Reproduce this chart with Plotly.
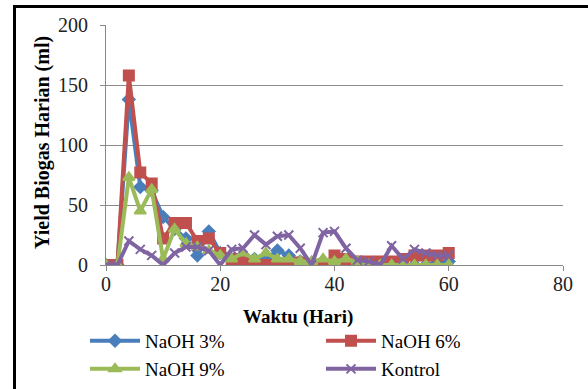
import plotly.graph_objects as go

# Days of measurement (every 2 days)
days = list(range(0, 61, 2))

# Daily biogas yield (ml) per treatment
naoh3 = [0, 0, 138, 65, 62, 40, 30, 22, 8, 28, 10, 5, 0, 5, 5, 12, 8, 3, 0, 3,
         0, 3, 0, 0, 0, 0, 0, 0, 0, 2, 3]
naoh6 = [0, 0, 158, 77, 68, 22, 35, 35, 20, 22, 10, 5, 5, 0, 0, 0, 0, 2, 0, 0,
         8, 5, 3, 3, 3, 3, 5, 8, 8, 8, 10]
naoh9 = [0, 0, 73, 45, 63, 5, 30, 18, 15, 12, 8, 5, 10, 5, 10, 5, 5, 3, 3, 5,
         3, 5, 3, 0, 0, 0, 0, 0, 0, 0, 0]
kontrol = [0, 0, 20, 13, 8, 0, 10, 15, 15, 12, 0, 13, 14, 25, 17, 24, 25, 14, 0, 27,
           28, 14, 4, 3, 0, 16, 5, 13, 10, 8, 8]

x_ticks = [0, 20, 40, 60, 80]
y_ticks = [0, 50, 100, 150, 200]

# name, values, colour, marker, marker size, legend row
series = [
    ("NaOH 3%", naoh3, "#4A7EBB", "diamond", 9, "legend"),
    ("NaOH 6%", naoh6, "#C0504D", "square", 10, "legend"),
    ("NaOH 9%", naoh9, "#9BBB59", "triangle-up", 10, "legend2"),
    ("Kontrol", kontrol, "#8064A2", "x-thin-open", 9, "legend2"),
]

fig = go.Figure()
for name, vals, color, sym, size, leg in series:
    fig.add_trace(go.Scatter(
        x=days, y=vals, name=name, mode="lines+markers", legend=leg,
        line=dict(color=color, width=4),
        marker=dict(symbol=sym, size=size, color=color,
                    line=dict(color=color, width=2)),
    ))

serif = "'Liberation Serif', 'DejaVu Serif', serif"
L, R, T, B = 106, 25, 25, 124
W, H = 588, 389
pw, ph = W - L - R, H - T - B


def px_x(p):
    return (p - L) / pw


def px_y(p):
    return (H - B - p) / ph


def legend_row(y_px):
    return dict(
        orientation="h", x=px_x(85), y=px_y(y_px), xanchor="left", yanchor="middle",
        entrywidth=171, entrywidthmode="pixels", itemwidth=50,
        font=dict(family=serif, size=19, color="black"),
        bgcolor="rgba(0,0,0,0)",
    )


fig.update_layout(
    width=W, height=H,
    margin=dict(l=L, r=R, t=T, b=B, autoexpand=False),
    paper_bgcolor="white", plot_bgcolor="white",
    font=dict(family=serif, size=19, color="black"),
    showlegend=True,
    legend=legend_row(341),
    legend2=legend_row(369),
    xaxis=dict(
        range=[0, 80], tickvals=x_ticks, showgrid=False, zeroline=False,
        showline=True, linecolor="#888888", linewidth=1,
        ticks="outside", ticklen=5, tickcolor="#888888", ticklabelstandoff=-4,
        tickfont=dict(family=serif, size=20, color="#222222"),
    ),
    yaxis=dict(
        range=[0, 200], tickvals=y_ticks, showgrid=True, gridcolor="#8c8c8c",
        gridwidth=1, zeroline=False, showline=True, linecolor="#888888",
        linewidth=1, ticks="outside", ticklen=5, tickcolor="#888888",
        ticklabelstandoff=8,
        tickfont=dict(family=serif, size=20, color="#222222"),
    ),
    annotations=[
        dict(text="<b>Waktu (Hari)</b>", xref="paper", yref="paper",
             x=px_x(298), y=px_y(317), xanchor="center", yanchor="middle",
             showarrow=False, font=dict(family=serif, size=19, color="black")),
        dict(text="<b>Yield Biogas Harian (ml)</b>", xref="paper", yref="paper",
             x=px_x(42), y=px_y(143), xanchor="center", yanchor="middle",
             textangle=-90, showarrow=False,
             font=dict(family=serif, size=20, color="black")),
    ],
    shapes=[
        dict(type="line", xref="paper", yref="paper",
             x0=px_x(14.5), x1=px_x(14.5), y0=px_y(5), y1=px_y(389),
             line=dict(color="black", width=3)),
        dict(type="line", xref="paper", yref="paper",
             x0=px_x(13), x1=px_x(588), y0=px_y(6.5), y1=px_y(6.5),
             line=dict(color="black", width=3)),
    ],
)

fig.write_html("out.html")
